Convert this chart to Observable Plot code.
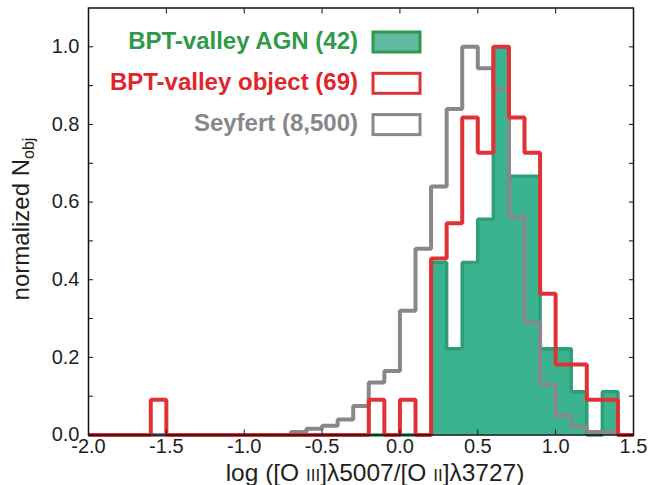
<!DOCTYPE html>
<html><head><meta charset="utf-8">
<script src="https://cdn.jsdelivr.net/npm/d3@7"></script>
<script src="https://cdn.jsdelivr.net/npm/@observablehq/plot@0.6"></script>
<style>body{margin:0;background:#fff;} #chart svg{display:block;}</style>
</head><body><div id="chart"></div>
<script>
// bin edges (lower edges of 0.1-wide bins, plus the final upper edge 1.5)
const binEdges = [-2.0,-1.9,-1.8,-1.7,-1.6,-1.5,-1.4,-1.3,-1.2,-1.1,-1.0,-0.9,-0.8,-0.7,-0.6,-0.5,-0.4,-0.3,-0.2,-0.1,0.0,0.1,0.2,0.3,0.4,0.5,0.6,0.7,0.8,0.9,1.0,1.1,1.2,1.3,1.4,1.5];
// counts per bin (35 bins: -2.0 .. 1.4)
const agnCounts = [0,0,0,0,0,0,0,0,0,0,0,0,0,0,0,0,0,0,0,0,0,0,4,2,4,5,9,6,6,2,2,1,0,1,0];
const objectCounts = [0,0,0,0,1,0,0,0,0,0,0,0,0,0,0,0,0,0,1,0,1,0,5,6,9,8,11,9,8,4,2,2,1,1,0];
const seyfertFractions = [0,0,0,0,0,0,0,0,0,0,0,0,0,0.008,0.016,0.024,0.04,0.075,0.135,0.165,0.32,0.48,0.64,0.84,1.0,0.945,0.89,0.56,0.29,0.13,0.05,0.022,0.008,0.008,0];
const legendLabels = ["BPT-valley AGN (42)", "BPT-valley object (69)", "Seyfert (8,500)"];
const yTicks = [0.0,0.2,0.4,0.6,0.8,1.0];
const yMinorTicks = [0.0,0.1,0.2,0.3,0.4,0.5,0.6,0.7,0.8,0.9,1.0];
const xTicks = [-2.0,-1.5,-1.0,-0.5,0.0,0.5,1.0,1.5];

const GREEN_FILL = "#3bb38f", GREEN_EDGE = "#2e9e78", RED = "#e03236", GRAY = "#88888a";

function steps(values) {
  const m = d3.max(values);
  return binEdges.map((x, i) => ({x, y: values[Math.min(i, values.length - 1)] / m}));
}
const agn = steps(agnCounts);
const obj = steps(objectCounts);
const sey = steps(seyfertFractions);

const lineOpts = {x: "x", y: "y", curve: "step-after", strokeLinejoin: "miter", strokeLinecap: "butt"};

const plot = Plot.plot({
  width: 649, height: 485,
  marginLeft: 88, marginRight: 16, marginTop: 7.5, marginBottom: 50.5,
  x: {domain: [-2, 1.5]},
  y: {domain: [0, 1.1]},
  style: {fontFamily: "'Liberation Sans', Arial, Helvetica, sans-serif", background: "white", color: "#231f20"},
  marks: [
    Plot.areaY(agn, {x: "x", y: "y", curve: "step-after", fill: GREEN_FILL}),
    Plot.lineY(agn, {...lineOpts, stroke: GREEN_EDGE, strokeWidth: 3.5}),
    Plot.lineY(sey, {...lineOpts, stroke: GRAY, strokeWidth: 4}),
    Plot.lineY(obj, {...lineOpts, stroke: RED, strokeWidth: 4}),
    Plot.frame({stroke: "#111", strokeWidth: 1.5}),
    Plot.axisY(yMinorTicks, {anchor: "left", tickSize: 5, dx: 5, fill: "none", label: null, stroke: "#111"}),
    Plot.axisY(yMinorTicks, {anchor: "right", tickSize: 5, dx: -5, fill: "none", label: null, stroke: "#111"}),
    Plot.axisX(xTicks, {anchor: "top", tickSize: 5, dy: 5, fill: "none", label: null, stroke: "#111"}),
    Plot.axisX(xTicks, {anchor: "bottom", tickSize: 5, dy: -5, fill: "none", label: null, stroke: "#111"}),
    Plot.axisY(yTicks, {anchor: "left", tickSize: 0, tickPadding: 9, fontSize: 20, tickFormat: d => d.toFixed(1), label: null}),
    Plot.axisX(xTicks, {anchor: "bottom", tickSize: 0, tickPadding: 4, fontSize: 20, tickFormat: d => d.toFixed(1), label: null})
  ]
});
document.getElementById("chart").appendChild(plot);

const svg = d3.select(plot);
const FONT = "'Liberation Sans', Arial, Helvetica, sans-serif";

// y title
const yt = svg.append("text")
  .attr("transform", "translate(28.5,219) rotate(-90)")
  .attr("text-anchor", "middle").attr("font-family", FONT).attr("font-size", 24).attr("fill", "#231f20");
yt.append("tspan").text("normalized N");
yt.append("tspan").attr("font-size", 16).attr("dy", 5).text("obj");

// x title
const xt = svg.append("text")
  .attr("x", 375).attr("y", 480.5)
  .attr("text-anchor", "middle").attr("font-family", FONT).attr("font-size", 24.5).attr("fill", "#231f20");
xt.append("tspan").text("log ([O ");
xt.append("tspan").attr("font-size", 17).text("III");
xt.append("tspan").text("]λ5007/[O ");
xt.append("tspan").attr("font-size", 17).text("II");
xt.append("tspan").text("]λ3727)");

// legend
const legendColors = ["#2f9a4a", "#e0262c", "#87878a"];
const swatchFill = ["#62b8a0", "white", "white"];
const swatchStroke = ["#2f9a4a", RED, GRAY];
const g = svg.append("g").attr("font-family", FONT).attr("font-weight", "bold").attr("font-size", 24);
legendLabels.forEach((t, i) => {
  const yb = 48.5 + i * 41.3;
  g.append("text").attr("x", 358).attr("y", yb).attr("text-anchor", "end").attr("fill", legendColors[i]).text(t);
  g.append("rect").attr("x", 373).attr("y", yb - 16.5).attr("width", 47).attr("height", 20)
    .attr("fill", swatchFill[i]).attr("stroke", swatchStroke[i]).attr("stroke-width", 3);
});
</script>
</body></html>
